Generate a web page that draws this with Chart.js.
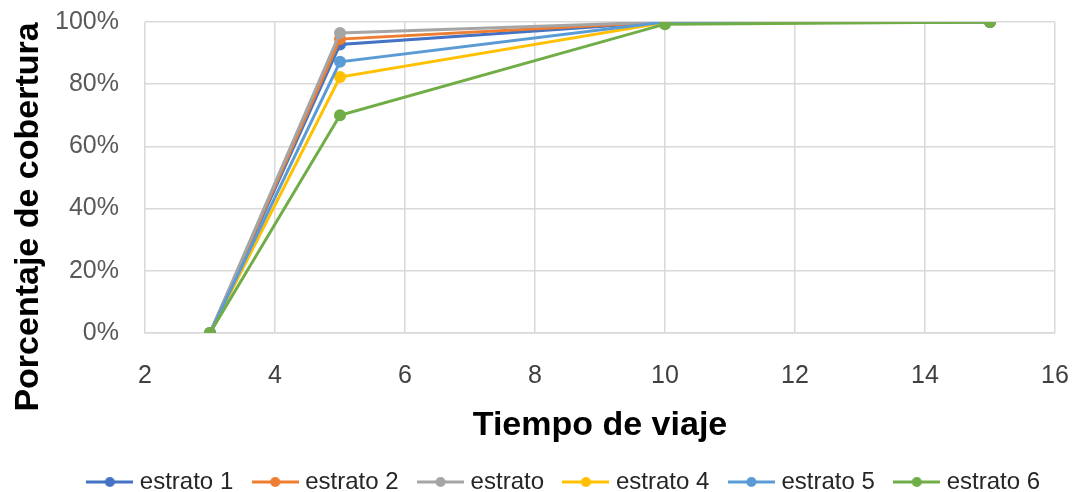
<!DOCTYPE html>
<html><head><meta charset="utf-8">
<script src="https://cdn.jsdelivr.net/npm/chart.js@4/dist/chart.umd.min.js"></script>
<style>html,body{margin:0;padding:0;background:#fff}#wrap{width:1077px;height:492px}</style>
</head><body><div id="wrap"><canvas id="c" width="1077" height="492"></canvas></div>
<script>
const xValues = [3, 5, 10, 15];
const seriesNames = ["estrato 1", "estrato 2", "estrato", "estrato 4", "estrato 5", "estrato 6"];
const estrato1 = [0, 92.8, 100, 100];
const estrato2 = [0, 94.5, 100, 100];
const estrato3 = [0, 96.5, 100, 100];
const estrato4 = [0, 82.3, 99.8, 100];
const estrato5 = [0, 87.2, 100, 100];
const estrato6 = [0, 70.0, 99.3, 100];
const xTicks = [2, 4, 6, 8, 10, 12, 14, 16];
const yTicks = [0, 20, 40, 60, 80, 100];
const xTitle = 'Tiempo de viaje';
const yTitle = 'Porcentaje de cobertura';
const colors = ["#4472C4", "#ED7D31", "#A5A5A5", "#FFC000", "#5B9BD5", "#70AD47"];
const allSeries = [estrato1, estrato2, estrato3, estrato4, estrato5, estrato6];
const FONT = 'Liberation Sans, Arial, sans-serif';

function legendIcon(color){
  const cv = document.createElement('canvas');
  cv.width = 47; cv.height = 14;
  const g = cv.getContext('2d');
  g.strokeStyle = color; g.lineWidth = 3;
  g.beginPath(); g.moveTo(0,7); g.lineTo(47,7); g.stroke();
  g.fillStyle = color; g.beginPath(); g.arc(23.5,7,5,0,Math.PI*2); g.fill();
  return cv;
}
const icons = colors.map(legendIcon);

const datasets = allSeries.map((s,i)=>({
  label: seriesNames[i],
  data: s.map((v,j)=>({x:xValues[j], y:v})),
  borderColor: colors[i], backgroundColor: colors[i],
  borderWidth: 3, pointRadius: 6, pointHoverRadius: 6,
  pointBorderWidth: 0, tension: 0, order: 6 - i
}));

const yTitlePlugin = {
  id: 'yTitle',
  afterDraw(chart){
    const ctx = chart.ctx;
    ctx.save();
    ctx.translate(29, 217);
    ctx.rotate(-Math.PI/2);
    ctx.textAlign = 'center';
    ctx.textBaseline = 'middle';
    ctx.fillStyle = '#000';
    ctx.font = 'bold 34px ' + FONT;
    ctx.fillText(yTitle, 0, 0);
    ctx.restore();
  }
};

new Chart(document.getElementById('c'), {
  type: 'line',
  data: { datasets },
  plugins: [yTitlePlugin],
  options: {
    responsive: false, animation: false,
    layout: { padding: { left: 55, right: 0, top: 0, bottom: 0 } },
    plugins: {
      tooltip: { enabled: false },
      legend: {
        position: 'bottom',
        maxHeight: 46,
        labels: {
          usePointStyle: true,
          pointStyleWidth: 36,
          color: '#262626',
          font: { family: FONT, size: 24 },
          padding: 24,
          sort: (a,b)=>a.datasetIndex-b.datasetIndex,
          generateLabels: (chart)=> chart.data.datasets.map((d,i)=>({
            text: d.label, pointStyle: icons[i], datasetIndex: i,
            fillStyle: colors[i], strokeStyle: colors[i], lineWidth: 0, hidden: false,
            fontColor: '#262626'
          }))
        }
      }
    },
    scales: {
      x: {
        type: 'linear', min: 2, max: 16,
        afterBuildTicks: (ax)=>{ ax.ticks = xTicks.map(v=>({value:v})); },
        afterFit: (s)=>{ s.paddingRight = 22; s.paddingLeft = 0; s.height = 113; },
        grid: { color: '#d9d9d9', lineWidth: 1.5, drawTicks: false },
        border: { color: '#d9d9d9', width: 1.5 },
        ticks: { color: '#404040', font: { family: FONT, size: 25 }, padding: 28, maxRotation: 0 },
        title: { display: true, text: xTitle, color: '#000', font: { family: FONT, size: 34, weight: 'bold' }, padding: { top: 0, bottom: 0 } }
      },
      y: {
        min: 0, max: 100,
        afterBuildTicks: (ax)=>{ ax.ticks = yTicks.map(v=>({value:v})); },
        afterFit: (s)=>{ s.width = 90; s.paddingTop = 22; s.paddingBottom = 15; },
        grid: { color: '#d9d9d9', lineWidth: 1.5, drawTicks: false },
        border: { display: false },
        ticks: { color: '#595959', font: { family: FONT, size: 25 }, padding: 26, callback: v=>v+'%' },
        title: { display: false }
      }
    }
  }
});
</script></body></html>
